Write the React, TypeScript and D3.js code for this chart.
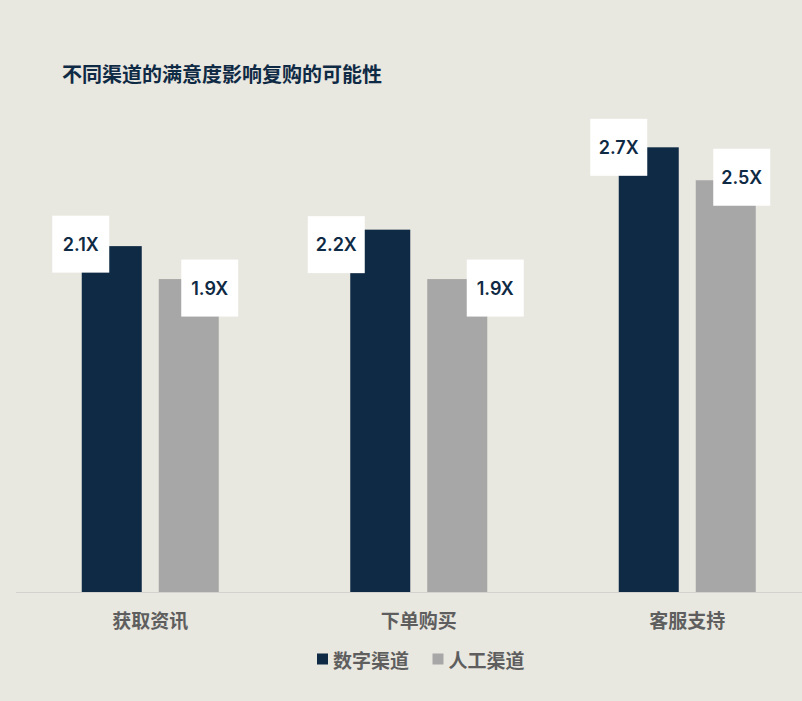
import React from 'react'
import { scaleBand, scaleLinear } from 'd3'

const categories = ['获取资讯', '下单购买', '客服支持']
const seriesNames = ['数字渠道', '人工渠道']
const digitalValues = [2.1, 2.2, 2.7]
const humanValues = [1.9, 1.9, 2.5]

// label box nudge relative to bar top-center, [dx, dy] per series per category
const digitalLabelNudge = [[-31, -2], [-44, 15], [-30, 0]]
const humanLabelNudge = [[21, 9], [38, 9], [16, -3]]

const WIDTH = 802
const HEIGHT = 701
const BG = '#e8e7e0'
const NAVY = '#0f2a44'
const GREY = '#a7a7a7'
const COLORS = [NAVY, GREY]
const BASE_Y = 592
const BOX = 57

export default function App(): JSX.Element {
  const x0 = scaleBand<string>()
    .domain(categories)
    .range([16, 821.5])
    .paddingInner(0.4898)
    .paddingOuter(0.2449)

  const x1 = scaleBand<string>()
    .domain(seriesNames)
    .range([0, x0.bandwidth()])
    .paddingInner(0.2208)
    .paddingOuter(0)

  const y = scaleLinear().domain([0, 3]).range([BASE_Y, BASE_Y - 3 * 164.7])

  const series = [
    { name: seriesNames[0], values: digitalValues, nudge: digitalLabelNudge },
    { name: seriesNames[1], values: humanValues, nudge: humanLabelNudge },
  ]

  const font = '"Noto Sans CJK SC", "Noto Sans", sans-serif'

  return (
    <div style={{ position: 'fixed', left: 0, top: 0 }}>
      <svg width={WIDTH} height={HEIGHT} xmlns="http://www.w3.org/2000/svg" style={{ display: 'block' }}>
        <rect width={WIDTH} height={HEIGHT} fill={BG} />
        <text x={62} y={73} dominantBaseline="central" fontFamily={font} fontSize={20} fontWeight={700} fill={NAVY}>
          不同渠道的满意度影响复购的可能性
        </text>

        {series.map((s, si) => (
          <g key={s.name}>
            {s.values.map((v, i) => {
              const bx = (x0(categories[i]) ?? 0) + (x1(s.name) ?? 0)
              return (
                <rect
                  key={categories[i]}
                  x={bx}
                  y={y(v)}
                  width={x1.bandwidth()}
                  height={BASE_Y - y(v)}
                  fill={COLORS[si]}
                />
              )
            })}
          </g>
        ))}

        <line x1={16} x2={WIDTH} y1={BASE_Y + 0.5} y2={BASE_Y + 0.5} stroke="#d3d2cf" strokeWidth={1} />

        {series.map((s) => (
          <g key={s.name + '-labels'}>
            {s.values.map((v, i) => {
              const cx = (x0(categories[i]) ?? 0) + (x1(s.name) ?? 0) + x1.bandwidth() / 2 + s.nudge[i][0]
              const cy = y(v) + s.nudge[i][1]
              return (
                <g key={categories[i]}>
                  <rect x={cx - BOX / 2} y={cy - BOX / 2} width={BOX} height={BOX} fill="#ffffff" />
                  <text
                    x={cx}
                    y={cy}
                    textAnchor="middle"
                    dominantBaseline="central"
                    fontFamily="Inter, Lato, sans-serif"
                    fontSize={18}
                    fontWeight={600}
                    fill={NAVY}
                  >
                    {v.toFixed(1)}X
                  </text>
                </g>
              )
            })}
          </g>
        ))}

        {categories.map((c) => (
          <text
            key={c}
            x={(x0(c) ?? 0) + x0.bandwidth() / 2}
            y={619}
            textAnchor="middle"
            dominantBaseline="central"
            fontFamily={font}
            fontSize={19}
            fontWeight={700}
            fill="#5e5e5e"
          >
            {c}
          </text>
        ))}

        {[{ x: 317 }, { x: 432.5 }].map((p, i) => (
          <g key={seriesNames[i]} transform={`translate(${p.x},659)`}>
            <rect x={0} y={-5.5} width={11} height={11} fill={COLORS[i]} />
            <text
              x={16}
              y={0}
              dominantBaseline="central"
              fontFamily={font}
              fontSize={19}
              fontWeight={700}
              fill="#5e5e5e"
            >
              {seriesNames[i]}
            </text>
          </g>
        ))}
      </svg>
    </div>
  )
}
